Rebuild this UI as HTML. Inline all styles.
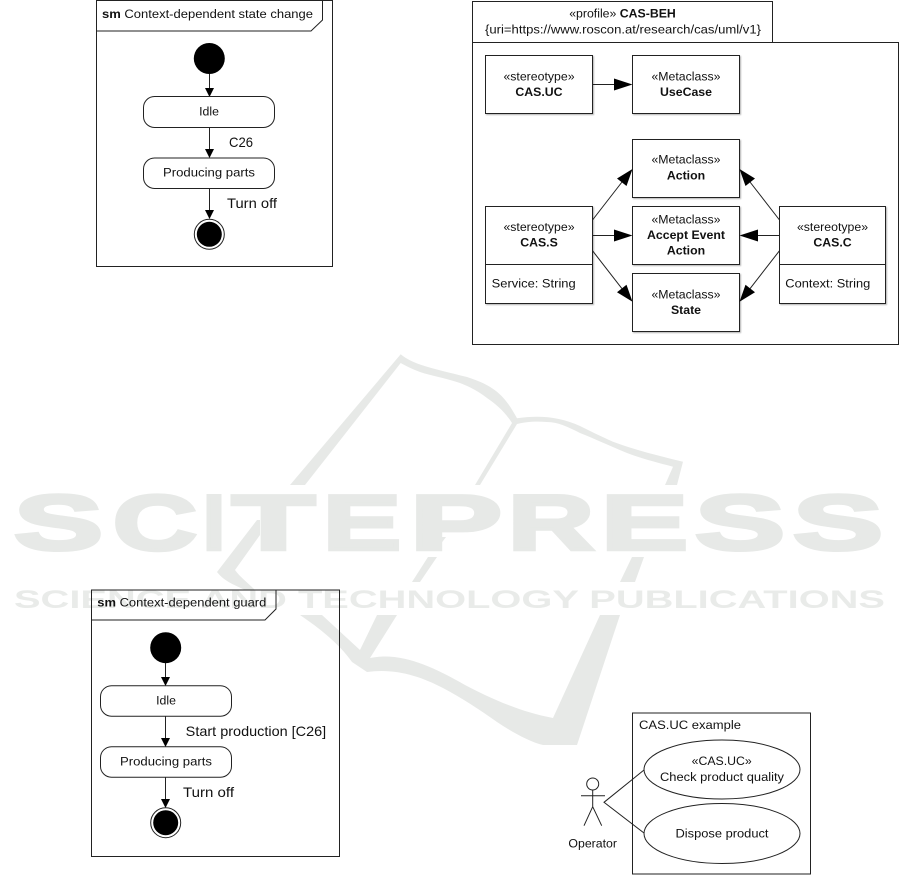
<!DOCTYPE html>
<html><head><meta charset="utf-8"><style>
html,body{margin:0;padding:0;background:#fff}
svg{display:block}
text{font-family:"Liberation Sans",sans-serif;font-size:12.3px;fill:#111}
.m{text-anchor:middle}.b{font-weight:bold}
.c{font-size:14px}
.l{stroke:#222;stroke-width:1;fill:none}
.f{stroke:#222;stroke-width:1;fill:#fff}
.s{stroke:#222;stroke-width:1;fill:#fff;filter:url(#sh)}
.wp{fill:#e7e9e7;stroke:none}
text.wl{font-size:78px;font-weight:bold;fill:#e7e9e7;stroke:#e7e9e7;stroke-width:3.5px}
</style></head><body>
<svg width="901" height="875" viewBox="0 0 901 875" xmlns="http://www.w3.org/2000/svg">
<defs><filter id="sh" x="-5%" y="-5%" width="112%" height="112%"><feDropShadow dx="1" dy="1" stdDeviation="0.7" flood-color="#000" flood-opacity=".3"/></filter></defs>

<!-- watermark book -->
<path class="wp" d="M290 485L400.7 354.3C412 364 430 368 467 377C495 386 505 396 517 418.3C540 415 560 417 580 426C590 431 600 436 613 441.7C635 450 660 456 683 461.7L677 485H665L673 466.7C655 462 640 458 627 453C610 446 595 439 580 433C568 427 558 422 547 422C535 421 525 422 517 424L480 485H475L512 423C505 412 497 405 487 398C478 391 470 387 460 383C445 378 432 376 420 372C412 369 406 366 400.7 363L305 485Z"/>
<path class="wp" d="M257 520H260V535L235 570C240 577 247 582 255 590H245C235 585 225 582 217 572Z"/>
<path class="wp" d="M438 537H446L437 549H434ZM428 557H437L420 582H412ZM632 557H644L635 582H620Z"/>
<path class="wp" d="M300 615H322L360 650L377 615H397L370 658C400 652 430 665 465 685C490 698 520 712 553 718L600 615H620L577 745H543C530 742 512 732 497 722C480 710 462 698 443 688C420 676 395 668 367 672L352 662C340 645 322 630 300 615Z"/>
<!-- watermark text -->
<text class="wl" x="14" y="549.5" textLength="89" lengthAdjust="spacingAndGlyphs">S</text>
<text class="wl" x="113" y="549.5" textLength="84" lengthAdjust="spacingAndGlyphs">C</text>
<text class="wl" x="203" y="549.5" textLength="22" lengthAdjust="spacingAndGlyphs">I</text>
<text class="wl" x="232" y="549.5" textLength="83" lengthAdjust="spacingAndGlyphs">T</text>
<text class="wl" x="323" y="549.5" textLength="78" lengthAdjust="spacingAndGlyphs">E</text>
<text class="wl" x="410" y="549.5" textLength="92" lengthAdjust="spacingAndGlyphs">P</text>
<text class="wl" x="508" y="549.5" textLength="86" lengthAdjust="spacingAndGlyphs">R</text>
<text class="wl" x="601" y="549.5" textLength="87" lengthAdjust="spacingAndGlyphs">E</text>
<text class="wl" x="695" y="549.5" textLength="90" lengthAdjust="spacingAndGlyphs">S</text>
<text class="wl" x="793" y="549.5" textLength="90" lengthAdjust="spacingAndGlyphs">S</text>
<text x="14" y="608" textLength="871" lengthAdjust="spacingAndGlyphs" style="font-size:25px;font-weight:bold;fill:#e9ebe9">SCIENCE AND TECHNOLOGY PUBLICATIONS</text>

<!-- top-left state machine -->
<rect class="l" x="96.5" y="0.5" width="236" height="266"/>
<path class="l" d="M96.5 31H311L322.5 20V0"/>
<text x="102" y="18" textLength="211" lengthAdjust="spacingAndGlyphs"><tspan class="b">sm</tspan> Context-dependent state change</text>
<circle cx="209.3" cy="58.5" r="15.5" fill="#000"/>
<path class="l" d="M209.5 74V90M209.5 127V150M209.5 188V211"/>
<path d="M205 88H214L209.5 97ZM205 149H214L209.5 158ZM205 210H214L209.5 219Z" fill="#000"/>
<rect class="f" x="143.5" y="96.5" width="131" height="31" rx="11"/>
<rect class="f" x="143.5" y="158" width="131" height="30.5" rx="11"/>
<text class="m" x="209" y="115.7">Idle</text>
<text x="163" y="176.7" textLength="92" lengthAdjust="spacingAndGlyphs">Producing parts</text>
<text class="c" x="229" y="147" textLength="24" lengthAdjust="spacingAndGlyphs">C26</text>
<text class="c" x="227" y="208" textLength="50" lengthAdjust="spacingAndGlyphs">Turn off</text>
<circle class="l" cx="209.3" cy="234.3" r="15"/>
<circle cx="209.3" cy="234.3" r="12.5" fill="#000"/>

<!-- profile -->
<rect class="f" x="472.5" y="42.5" width="426" height="302"/>
<rect class="f" x="472.5" y="1.5" width="300" height="41"/>
<text class="m" x="622.5" y="17.3">«profile» <tspan class="b">CAS-BEH</tspan></text>
<text x="485" y="33.3" textLength="276" lengthAdjust="spacingAndGlyphs">{uri=https://www.roscon.at/research/cas/uml/v1}</text>

<rect class="s" x="485.5" y="55.5" width="107" height="58"/>
<rect class="s" x="632.5" y="55.5" width="107" height="58"/>
<rect class="s" x="632.5" y="139.5" width="107" height="58"/>
<rect class="s" x="632.5" y="206.5" width="107" height="58"/>
<rect class="s" x="632.5" y="273.5" width="107" height="58"/>
<rect class="s" x="485.5" y="206.5" width="107" height="97"/>
<rect class="s" x="779.5" y="206.5" width="106" height="97"/>
<path class="l" d="M485.5 264.5H592.5M779.5 264.5H885.5"/>

<text class="m" x="539" y="80.7">«stereotype»</text><text class="m b" x="539" y="96">CAS.UC</text>
<text class="m" x="686" y="80.7">«Metaclass»</text><text class="m b" x="686" y="96">UseCase</text>
<text class="m" x="686" y="163.7">«Metaclass»</text><text class="m b" x="686" y="179.5">Action</text>
<text class="m" x="686" y="223.3">«Metaclass»</text><text class="m b" x="686" y="239">Accept Event</text><text class="m b" x="686" y="254.5">Action</text>
<text class="m" x="686" y="298.3">«Metaclass»</text><text class="m b" x="686" y="314">State</text>
<text class="m" x="539" y="231">«stereotype»</text><text class="m b" x="539" y="246.7">CAS.S</text>
<text class="m" x="832.5" y="231">«stereotype»</text><text class="m b" x="832.5" y="246.7">CAS.C</text>
<text x="491.7" y="287.7" textLength="84" lengthAdjust="spacingAndGlyphs">Service: String</text>
<text x="785.3" y="287.7" textLength="85" lengthAdjust="spacingAndGlyphs">Context: String</text>

<path class="l" d="M592.5 84.5H615M592.5 220L622 182M592.5 235.5H615M592.5 250.7L622 288.7M779.5 220L750 182M779.5 235.5H757M779.5 250.7L750 288.7"/>
<path fill="#000" d="M632.5 84.5L614 78.5V90.5ZM632.5 169L617 178.5L626.5 186ZM632.5 235.5L614 229.5V241.5ZM632.5 301.7L626.5 284.7L617 292.2ZM739.5 169L745.5 186L755 178.5ZM739.5 235.5L758 229.5V241.5ZM739.5 301.7L755 292.2L745.5 284.7Z"/>

<!-- bottom-left state machine -->
<rect class="l" x="91.5" y="590" width="248" height="266.5"/>
<path class="l" d="M91.5 620H265L276 609V590"/>
<text x="97.3" y="606.7" textLength="169" lengthAdjust="spacingAndGlyphs"><tspan class="b">sm</tspan> Context-dependent guard</text>
<circle cx="165.7" cy="647.7" r="15.5" fill="#000"/>
<path class="l" d="M165.5 663V678M165.5 716V740M165.5 777V800"/>
<path d="M161 677H170L165.5 686ZM161 738H170L165.5 747ZM161 799H170L165.5 808Z" fill="#000"/>
<rect class="f" x="100.5" y="685.7" width="131" height="30.5" rx="11"/>
<rect class="f" x="100.5" y="746.7" width="131" height="30.5" rx="11"/>
<text class="m" x="166" y="704.3">Idle</text>
<text x="120" y="765.5" textLength="92" lengthAdjust="spacingAndGlyphs">Producing parts</text>
<text class="c" x="185.7" y="736" textLength="140.5" lengthAdjust="spacingAndGlyphs">Start production [C26]</text>
<text class="c" x="183" y="797" textLength="51" lengthAdjust="spacingAndGlyphs">Turn off</text>
<circle class="l" cx="165.7" cy="822.7" r="15"/>
<circle cx="165.7" cy="822.7" r="12.5" fill="#000"/>

<!-- use case -->
<rect class="f" x="632.5" y="713" width="178" height="161"/>
<text x="639" y="729" textLength="102" lengthAdjust="spacingAndGlyphs">CAS.UC example</text>
<ellipse class="f" cx="722" cy="769.5" rx="78" ry="29.5"/>
<ellipse class="f" cx="722" cy="833.5" rx="78" ry="30"/>
<text class="m" x="721.7" y="765">«CAS.UC»</text>
<text x="660" y="781" textLength="124" lengthAdjust="spacingAndGlyphs">Check product quality</text>
<text x="675.5" y="837.7" textLength="93" lengthAdjust="spacingAndGlyphs">Dispose product</text>
<circle class="l" cx="592.7" cy="784" r="6"/>
<path class="l" d="M581 795.7H605M592.7 790V806.7L584 825.7M592.7 806.7L601.7 825.7M644 770L604 802.3L644 833"/>
<text class="m" x="592.7" y="847.7">Operator</text>
</svg>
</body></html>
